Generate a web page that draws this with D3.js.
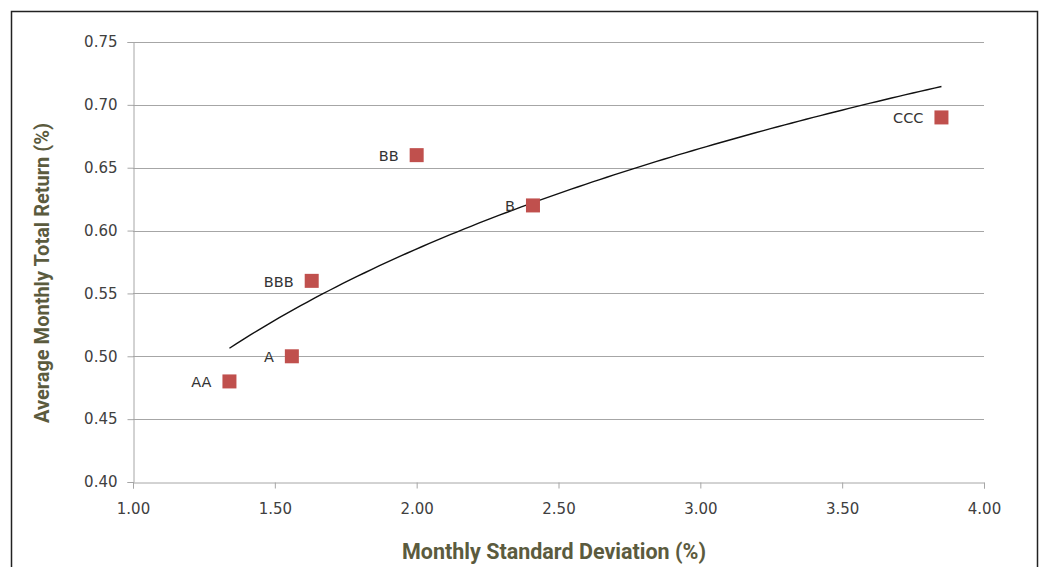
<!DOCTYPE html>
<html><head><meta charset="utf-8">
<script src="https://cdn.jsdelivr.net/npm/d3@7"></script>
<style>
html,body{margin:0;padding:0;background:#fff;}
svg{display:block;}
</style></head>
<body>
<svg id="chart" width="1042" height="567"></svg>
<script>
const ratings = ["AA", "A", "BBB", "BB", "B", "CCC"];
const stdDev = [1.34, 1.56, 1.63, 2.00, 2.41, 3.85];
const avgReturn = [0.48, 0.50, 0.56, 0.66, 0.62, 0.69];
const xTicks = [1.00, 1.50, 2.00, 2.50, 3.00, 3.50, 4.00];
const yTicks = [0.40, 0.45, 0.50, 0.55, 0.60, 0.65, 0.70, 0.75];

const svg = d3.select("#chart");
const W = 1042, H = 567;
const m = {left: 133, right: 984, top: 42, bottom: 482};

// outer frame
svg.append("path").attr("d", `M11.5,${H} V11.5 H1037.5 V${H}`)
  .attr("fill", "none").attr("stroke", "#222").attr("stroke-width", 1.5);

const x = d3.scaleLinear().domain([1, 4]).range([m.left, m.right]);
const y = d3.scaleLinear().domain([0.40, 0.75]).range([m.bottom, m.top]);

const tickFont = "'DejaVu Sans', Verdana, sans-serif";

// gridlines
svg.append("g").selectAll("line").data(yTicks.filter(d => d > 0.40)).join("line")
  .attr("x1", m.left).attr("x2", m.right)
  .attr("y1", d => Math.round(y(d)) + 0.5).attr("y2", d => Math.round(y(d)) + 0.5)
  .attr("stroke", "#a6a6a6").attr("stroke-width", 1);

// y axis
const yAxis = svg.append("g").attr("transform", `translate(${m.left + 0.5},0)`)
  .call(d3.axisLeft(y).tickValues(yTicks).tickFormat(d3.format(".2f")).tickSize(6).tickPadding(10));
// x axis
const xAxis = svg.append("g").attr("transform", `translate(0,${Math.round(m.bottom) + 0.5})`)
  .call(d3.axisBottom(x).tickValues(xTicks).tickFormat(d3.format(".2f")).tickSize(6).tickPadding(15));

[yAxis, xAxis].forEach(g => {
  g.select(".domain").attr("stroke", "#a6a6a6");
  g.selectAll(".tick line").attr("stroke", "#a6a6a6");
  g.selectAll(".tick text").attr("fill", "#404040")
    .style("font-family", tickFont).style("font-size", "15px");
});

// log trendline computed from the data (least squares on ln x)
const lx = stdDev.map(Math.log);
const mx = d3.mean(lx), my = d3.mean(avgReturn);
const b = d3.sum(lx.map((v, i) => (v - mx) * (avgReturn[i] - my))) / d3.sum(lx.map(v => (v - mx) ** 2));
const a = my - b * mx;
const xs = d3.range(0, 101).map(i => d3.min(stdDev) + (d3.max(stdDev) - d3.min(stdDev)) * i / 100);
svg.append("path")
  .datum(xs)
  .attr("d", d3.line().x(d => x(d)).y(d => y(a + b * Math.log(d))))
  .attr("fill", "none").attr("stroke", "#111").attr("stroke-width", 1.4);

// markers
const sz = 14;
svg.append("g").selectAll("rect").data(ratings).join("rect")
  .attr("x", (d, i) => x(stdDev[i]) - sz / 2)
  .attr("y", (d, i) => y(avgReturn[i]) - sz / 2)
  .attr("width", sz).attr("height", sz)
  .attr("fill", "#c0504d");

// labels
svg.append("g").selectAll("text").data(ratings).join("text")
  .attr("x", (d, i) => x(stdDev[i]) - sz / 2 - 11)
  .attr("y", (d, i) => y(avgReturn[i]) + 6)
  .attr("text-anchor", "end")
  .attr("fill", "#333")
  .style("font-family", tickFont).style("font-size", "14.5px")
  .text(d => d);

// axis titles
const titleFont = "Roboto, 'Noto Sans', sans-serif";
svg.append("text")
  .attr("x", 554).attr("y", 559)
  .attr("text-anchor", "middle")
  .attr("fill", "#5b5b3e")
  .style("font-family", titleFont).style("font-weight", "bold").style("font-size", "21.5px")
  .text("Monthly Standard Deviation (%)");
svg.append("text")
  .attr("transform", `translate(49,${(m.top + m.bottom) / 2 + 11}) rotate(-90)`)
  .attr("text-anchor", "middle")
  .attr("fill", "#5b5b3e")
  .style("font-family", titleFont).style("font-weight", "bold").style("font-size", "20px")
  .text("Average Monthly Total Return (%)");
</script>
</body></html>
